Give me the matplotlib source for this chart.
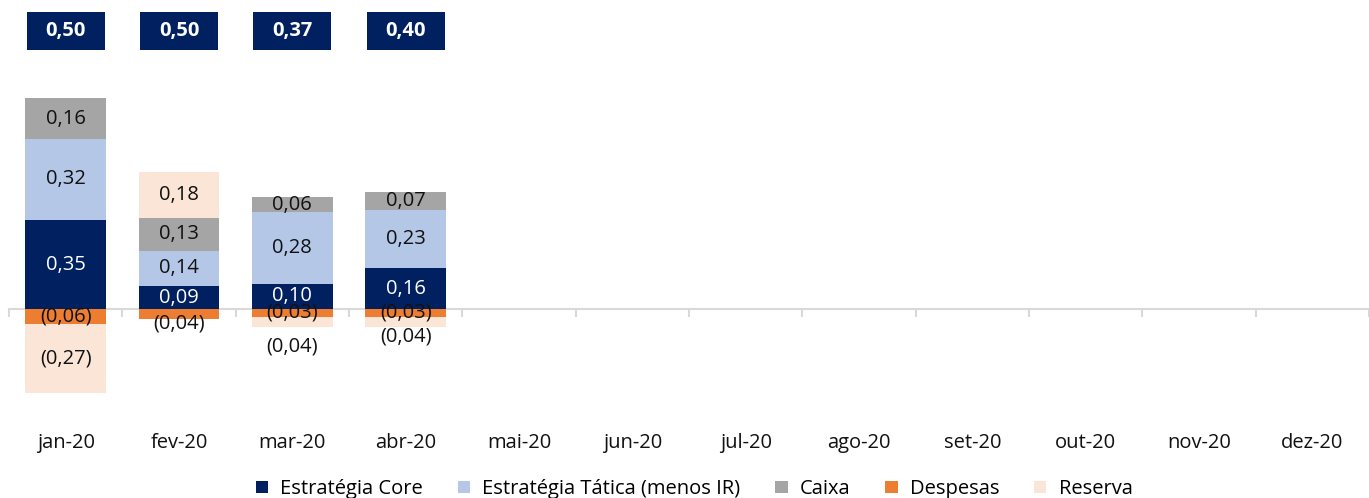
import numpy as np
import matplotlib.pyplot as plt
from matplotlib.patches import Patch, Rectangle
import matplotlib.transforms as mtransforms

plt.rcParams['font.family'] = ['Open Sans', 'DejaVu Sans']

months = ['jan-20', 'fev-20', 'mar-20', 'abr-20', 'mai-20', 'jun-20',
          'jul-20', 'ago-20', 'set-20', 'out-20', 'nov-20', 'dez-20']
core = [0.35, 0.09, 0.10, 0.16]
tatica = [0.32, 0.14, 0.28, 0.23]
caixa = [0.16, 0.13, 0.06, 0.07]
despesas = [-0.06, -0.04, -0.03, -0.03]
reserva = [-0.27, 0.18, -0.04, -0.04]
totals = [0.50, 0.50, 0.37, 0.40]

series = [
    ('Estratégia Core', core, '#002060', 'white'),
    ('Estratégia Tática (menos IR)', tatica, '#B4C7E7', '#111111'),
    ('Caixa', caixa, '#A5A5A5', '#111111'),
    ('Despesas', despesas, '#ED7D31', '#111111'),
    ('Reserva', reserva, '#FBE5D6', '#111111'),
]

# manual label nudges (points, downward) where Excel labels were moved
nudges = {('Despesas', 1): 7, ('Reserva', 2): 18, ('Reserva', 3): 11}


def fmt(v):
    s = '{:.2f}'.format(abs(v)).replace('.', ',')
    return '({})'.format(s) if v < 0 else s


fig = plt.figure(figsize=(13.69, 4.98), dpi=100)
W, H = 1369, 498
ax = fig.add_axes([9 / W, (H - 400) / H, (W - 9) / W, 400 / H])

px_per_unit = 254
zero_px = 309
ax.set_ylim(-(400 - zero_px) / px_per_unit, zero_px / px_per_unit)
ax.set_xlim(-0.5, -0.5 + (W - 9) / 114)

x = np.arange(len(core))
width = 0.71
pos_base = np.zeros(len(x))
neg_base = np.zeros(len(x))
fs = 14.5

for name, vals, color, tcolor in series:
    vals = np.array(vals)
    bottoms = np.where(vals >= 0, pos_base, neg_base)
    ax.bar(x, vals, width, bottom=bottoms, color=color, linewidth=0, zorder=2)
    for i, v in enumerate(vals):
        yc = bottoms[i] + v / 2
        ax.annotate(fmt(v), (x[i], yc), xytext=(0, -nudges.get((name, i), 0)),
                    textcoords='offset points', ha='center', va='center',
                    fontsize=fs, color=tcolor, zorder=4)
    pos_base = pos_base + np.where(vals >= 0, vals, 0)
    neg_base = neg_base + np.where(vals < 0, vals, 0)

# totals boxes above the bars
trans = mtransforms.blended_transform_factory(ax.transData, ax.transAxes)
for i, t in enumerate(totals):
    ax.add_patch(Rectangle((x[i] - 0.345, (400 - 50) / 400), 0.69, 38 / 400,
                           transform=trans, facecolor='#002060',
                           edgecolor='none', clip_on=False, zorder=3))
    ax.text(x[i], (400 - 31) / 400, fmt(t), transform=trans, ha='center',
            va='center', fontsize=fs, fontweight='bold', color='white',
            zorder=4, clip_on=False)

# axis at zero
for side in ['top', 'right', 'left']:
    ax.spines[side].set_visible(False)
ax.spines['bottom'].set_position(('data', 0))
ax.spines['bottom'].set_color('#D9D9D9')
ax.spines['bottom'].set_linewidth(1.5)
ax.spines['bottom'].set_zorder(1)
ax.set_yticks([])
ax.set_xticks(np.arange(len(months)))
ax.set_xticklabels(months, fontsize=fs, color='#111111')
ax.set_xticks(np.arange(len(months) + 1) - 0.5, minor=True)
ax.tick_params(axis='x', which='major', length=0, pad=89)
ax.tick_params(axis='x', which='minor', length=6, width=1.5, color='#D9D9D9')

handles = [Patch(facecolor=c, edgecolor='none', label=n) for n, _, c, _ in series]
fig.legend(handles=handles, loc='center', bbox_to_anchor=(0.507, (H - 489) / H),
           ncol=5, frameon=False, fontsize=fs, handlelength=0.6,
           handleheight=0.6, handletextpad=0.6, columnspacing=1.75)

fig.savefig('out.png', dpi=100)
